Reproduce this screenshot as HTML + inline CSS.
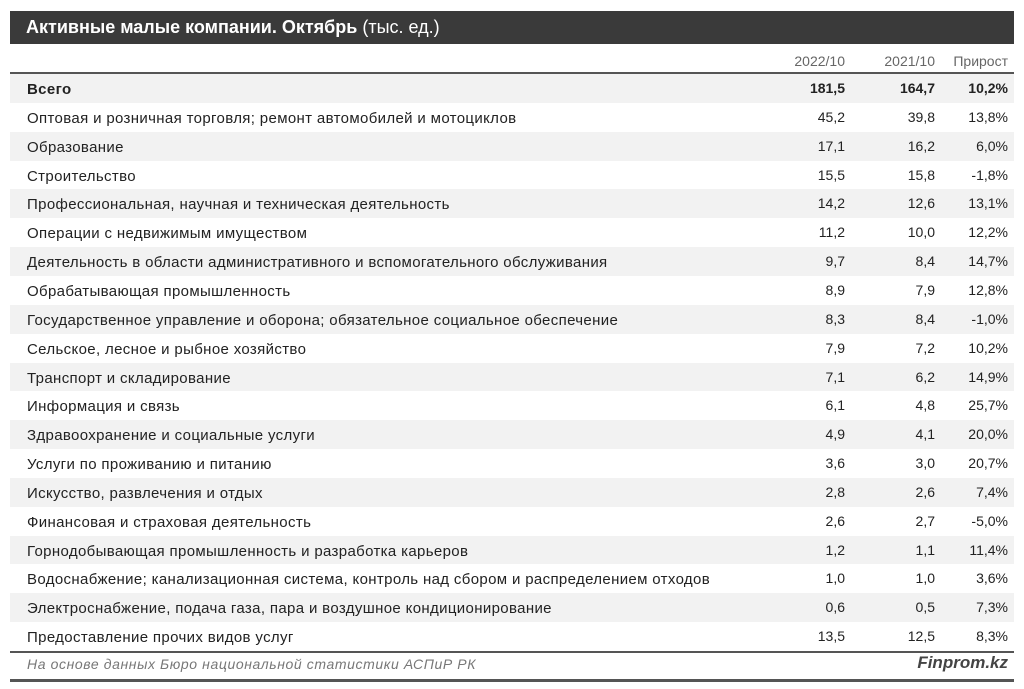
<!DOCTYPE html>
<html><head><meta charset="utf-8"><style>
body{margin:0;width:1024px;height:689px;background:#fff;font-family:"Liberation Sans",sans-serif;color:#222;position:relative;overflow:hidden}
.title{position:absolute;left:10px;top:11px;width:1004px;height:33px;background:#3a3a3a;color:#fff;font-size:18px;line-height:33px;padding-left:16px;box-sizing:border-box;font-weight:bold}
.title span{font-weight:normal}
.hdr{position:absolute;top:50px;height:22px;font-size:14px;color:#666;line-height:22px}
.line{position:absolute;left:10px;width:1004px;height:2px;background:#555}
.row{position:absolute;left:10px;width:1004px;height:28.85px;line-height:28.85px;font-size:14px}
.row.g{background:#f2f2f2}
.row div{position:absolute;top:0}
.row div.n{left:17px;top:2px;font-size:15px;letter-spacing:0.35px;line-height:28px}
.a{right:169px}
.b{right:79px}
.c{right:6px}
.foot{position:absolute;top:656px;font-size:14px;color:#777;font-style:italic}
</style></head><body>
<div class="title">Активные малые компании. Октябрь <span>(тыс. ед.)</span></div>
<div class="hdr" style="right:179px">2022/10</div>
<div class="hdr" style="right:89px">2021/10</div>
<div class="hdr" style="right:16px">Прирост</div>
<div class="line" style="top:72px"></div>
<div id="rows"></div>
<div class="line" style="top:651px"></div>
<div class="foot" style="left:27px;letter-spacing:0.6px">На основе данных Бюро национальной статистики АСПиР РК</div>
<div class="foot" style="right:16px;font-weight:bold;font-size:17px;color:#444;top:653px">Finprom.kz</div>
<div class="line" style="top:679px;height:3px"></div>
<script>
var d=[["Всего","181,5","164,7","10,2%"],
["Оптовая и розничная торговля; ремонт автомобилей и мотоциклов","45,2","39,8","13,8%"],
["Образование","17,1","16,2","6,0%"],
["Строительство","15,5","15,8","-1,8%"],
["Профессиональная, научная и техническая деятельность","14,2","12,6","13,1%"],
["Операции с недвижимым имуществом","11,2","10,0","12,2%"],
["Деятельность в области административного и вспомогательного обслуживания","9,7","8,4","14,7%"],
["Обрабатывающая промышленность","8,9","7,9","12,8%"],
["Государственное управление и оборона; обязательное социальное обеспечение","8,3","8,4","-1,0%"],
["Сельское, лесное и рыбное хозяйство","7,9","7,2","10,2%"],
["Транспорт и складирование","7,1","6,2","14,9%"],
["Информация и связь","6,1","4,8","25,7%"],
["Здравоохранение и социальные услуги","4,9","4,1","20,0%"],
["Услуги по проживанию и питанию","3,6","3,0","20,7%"],
["Искусство, развлечения и отдых","2,8","2,6","7,4%"],
["Финансовая и страховая деятельность","2,6","2,7","-5,0%"],
["Горнодобывающая промышленность и разработка карьеров","1,2","1,1","11,4%"],
["Водоснабжение; канализационная система, контроль над сбором и распределением отходов","1,0","1,0","3,6%"],
["Электроснабжение, подача газа, пара и воздушное  кондиционирование","0,6","0,5","7,3%"],
["Предоставление прочих видов услуг","13,5","12,5","8,3%"]];
var h="";
d.forEach(function(r,i){var t=74+i*28.85;var bold=i==0?"font-weight:bold;":"";
h+='<div class="row'+(i%2==0?' g':'')+'" style="top:'+t+'px;'+bold+'"><div class="n">'+r[0]+'</div><div class="a">'+r[1]+'</div><div class="b">'+r[2]+'</div><div class="c">'+r[3]+'</div></div>';});
document.getElementById("rows").innerHTML=h;
</script>
</body></html>
